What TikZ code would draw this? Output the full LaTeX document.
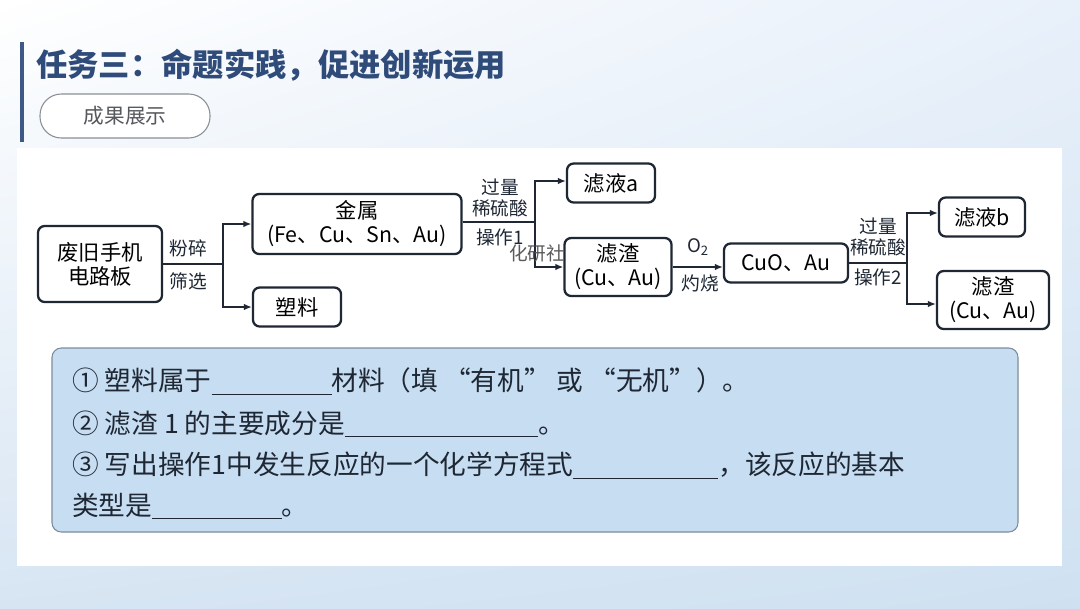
\documentclass[tikz,border=0pt]{standalone}
\usepackage{fontspec}
\usepackage{xcolor}
\usetikzlibrary{arrows.meta,positioning,calc,shadings}
\setmainfont{Noto Sans CJK SC}
\newfontfamily\cjk{Noto Sans CJK SC}
\definecolor{ink}{HTML}{1E2733}
\definecolor{navy}{HTML}{2F4B7A}
\definecolor{bar}{HTML}{3E5985}
\definecolor{pillgray}{HTML}{8A8F96}
\definecolor{pilltext}{HTML}{55585C}
\definecolor{qfill}{HTML}{C7DDF2}
\definecolor{qline}{HTML}{7D8C9C}
\definecolor{bgtr}{HTML}{E8F0FA}
\definecolor{bgbl}{HTML}{D7E5F3}
\definecolor{bgbr}{HTML}{CFE1F1}
\definecolor{mark}{HTML}{5A5A5A}
\newcommand{\blank}[1]{\rule[-3pt]{#1pt}{0.6pt}}

\begin{document}
\begin{tikzpicture}[x=0.75pt,y=-0.75pt,
   box/.style={draw=ink,line width=1.7pt,rounded corners=5pt,fill=white,align=center,
     font=\fontsize{16}{18}\selectfont,inner sep=0pt},
   lab/.style={font=\fontsize{14}{16}\selectfont,text=ink,align=center,inner sep=0pt},
   flow/.style={draw=ink,line width=1.4pt},
   arr/.style={flow,-{Latex[length=6pt,width=5pt]}}]
  % background and panel
  \useasboundingbox (0,0) rectangle (1080,608);
  \shade[upper left=white,upper right=bgtr,lower left=bgbl,lower right=bgbr] (0,0) rectangle (1080,608);
  \fill[white] (17,148) rectangle (1062,566);
  % heading
  \fill[bar] (20,42) rectangle (24,142);
  \node[font=\fontsize{23.5}{25}\selectfont\bfseries,text=navy,anchor=west,inner sep=0pt] (title) at (36,65)
     {任务三：命题实践，促进创新运用};
  \node[draw=pillgray,line width=0.8pt,fill=white,rounded corners=16pt,minimum width=170*0.75pt,
     minimum height=44*0.75pt,font=\fontsize{15.5}{17}\selectfont,text=pilltext] (pill) at (125,116) {成果展示};
  % flow chart
  \node[box,minimum width=124*0.75pt,minimum height=76*0.75pt] (board) at (100,264) {废旧手机\\电路板};
  \node[box,minimum width=209*0.75pt,minimum height=60*0.75pt] (metal) at (357,224) {金属\\(Fe、Cu、Sn、Au)};
  \node[box,minimum width=88*0.75pt,minimum height=39*0.75pt] (plastic) at (297,307) {塑料};
  \node[box,minimum width=88*0.75pt,minimum height=39*0.75pt] (filtA) at (611,183) {滤液a};
  \node[box,minimum width=107*0.75pt,minimum height=58*0.75pt] (resA) at (618,267) {滤渣\\(Cu、Au)};
  \node[box,minimum width=124*0.75pt,minimum height=39*0.75pt] (cuo) at (786,263) {CuO、Au};
  \node[box,minimum width=86*0.75pt,minimum height=39*0.75pt] (filtB) at (982,217) {滤液b};
  \node[box,minimum width=112*0.75pt,minimum height=58*0.75pt] (resB) at (993,300) {滤渣\\(Cu、Au)};
  % split points
  \coordinate (s1) at (223,264);
  \coordinate (s2) at (535,222);
  \coordinate (s3) at (907,263);
  \draw[flow] (board.east) -- (s1);
  \draw[arr] (s1) |- (metal.west);
  \draw[arr] (s1) |- (plastic.west);
  \draw[flow] (metal.east |- s2) -- (s2);
  \draw[arr] (s2) |- ($(filtA.west)+(0,-2)$);
  \draw[arr] (s2) |- (resA.west);
  \draw[arr] (resA.east) -- (resA.east -| cuo.west);
  \draw[flow] (cuo.east |- s3) -- (s3);
  \draw[arr] (s3) |- ($(filtB.west)+(0,-4)$);
  \draw[arr] (s3) |- ($(resB.west)+(0,4)$);
  % step labels
  \node[lab] (crush) at (188,248) {粉碎};
  \node[lab] (sieve) at (188,281) {筛选};
  \node[lab] (acid1) at (500,198) {过量\\稀硫酸};
  \node[lab] (op1) at (500,237) {操作1};
  \node[lab] (oxy) at (698,247) {O\textsubscript{2}};
  \node[lab] (burn) at (700,283) {灼烧};
  \node[lab] (acid2) at (878,237) {过量\\稀硫酸};
  \node[lab] (op2) at (878,277) {操作2};
  \node[lab,text=mark] (wm) at (537,253) {化研社};
  % questions
  \node[draw=qline,line width=0.8pt,fill=qfill,rounded corners=7pt,minimum width=966*0.75pt,
     minimum height=184*0.75pt] (qbox) at (535,440) {};
  \begin{scope}[every node/.style={anchor=west,inner sep=0pt,text=ink,font=\fontsize{20}{22}\selectfont}]
    \node (q1) at (72,381) {① 塑料属于\blank{90}材料（填 “有机” 或 “无机”）。};
    \node (q2) at (72,424) {② 滤渣 1 的主要成分是\blank{145}。};
    \node (q3) at (72,465) {③ 写出操作1中发生反应的一个化学方程式\blank{109}，该反应的基本};
    \node (q4) at (72,506) {类型是\blank{97}。};
  \end{scope}
\end{tikzpicture}
\end{document}
